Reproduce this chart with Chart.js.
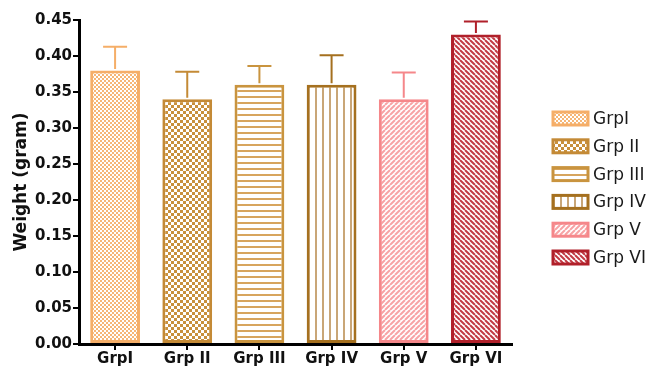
<!DOCTYPE html>
<html>
<head>
<meta charset="utf-8">
<script src="https://cdn.jsdelivr.net/npm/chart.js@4/dist/chart.umd.min.js"></script>
<style>
  html, body { margin: 0; padding: 0; background: #fff; }
  #wrap { width: 652px; height: 371px; }
</style>
</head>
<body>
<div id="wrap"><canvas id="c" width="652" height="371"></canvas></div>
<script>
// Body weight per group (mean and upper SEM bound)
const groups = ['GrpI', 'Grp II', 'Grp III', 'Grp IV', 'Grp V', 'Grp VI'];
const means = [0.38, 0.34, 0.36, 0.36, 0.34, 0.43];
const upperErr = [0.413, 0.378, 0.386, 0.401, 0.377, 0.448];
const yTicks = [0, 0.05, 0.10, 0.15, 0.20, 0.25, 0.30, 0.35, 0.40, 0.45];

const edgeColors = ['#F5AE68', '#C48A36', '#C9943F', '#A5701F', '#F5878A', '#B0202A'];
const inkColors  = ['#F6B676', '#C8903C', '#D7A55E', '#C9A677', '#F7A3A5', '#C23A44'];

const FONT = '"DejaVu Sans", Verdana, sans-serif';

function tile(w, h, draw) {
  const cv = document.createElement('canvas');
  cv.width = w; cv.height = h;
  const g = cv.getContext('2d');
  g.fillStyle = '#fff';
  g.fillRect(0, 0, w, h);
  draw(g);
  return document.getElementById('c').getContext('2d').createPattern(cv, 'repeat');
}
function checker(size, color) {
  return tile(size * 2, size * 2, g => {
    g.fillStyle = color;
    g.fillRect(0, 0, size, size);
    g.fillRect(size, size, size, size);
  });
}
function hLines(period, thick, color) {
  return tile(period, period, g => { g.fillStyle = color; g.fillRect(0, 0, period, thick); });
}
function vLines(period, thick, color) {
  return tile(period, period, g => { g.fillStyle = color; g.fillRect(0, 0, thick, period); });
}
function diag(period, thick, color, rising) {
  return tile(period, period, g => {
    g.strokeStyle = color; g.lineWidth = thick;
    g.beginPath();
    for (let k = -1; k <= 1; k++) {
      if (rising) { g.moveTo(k * period, period); g.lineTo(k * period + period, 0); }
      else { g.moveTo(k * period, 0); g.lineTo(k * period + period, period); }
    }
    g.stroke();
  });
}
const fills = [
  checker(2, inkColors[0]),
  checker(3, inkColors[1]),
  hLines(6, 2, inkColors[2]),
  vLines(7, 2, inkColors[3]),
  diag(5, 2, inkColors[4], true),
  diag(5, 2, inkColors[5], false)
];

// upper-only error bars with caps
const errorBars = {
  id: 'errorBars',
  afterDatasetsDraw(chart) {
    const { ctx, scales: { x, y } } = chart;
    ctx.save();
    ctx.lineWidth = 2;
    means.forEach((m, i) => {
      const cx = x.getPixelForValue(i);
      const y0 = y.getPixelForValue(m);
      const y1 = y.getPixelForValue(upperErr[i]);
      ctx.strokeStyle = edgeColors[i];
      ctx.beginPath();
      ctx.moveTo(cx, y0 - 1.5); ctx.lineTo(cx, y1);
      ctx.moveTo(cx - 12, y1); ctx.lineTo(cx + 12, y1);
      ctx.stroke();
    });
    ctx.restore();
  }
};

// legend column to the right of the plot
const sideLegend = {
  id: 'sideLegend',
  afterDraw(chart) {
    const { ctx } = chart;
    ctx.save();
    const bx = 553, bw = 35, bh = 13, top = 112, step = 27.8;
    groups.forEach((g, i) => {
      const by = top + i * step;
      ctx.fillStyle = fills[i];
      ctx.fillRect(bx, by, bw, bh);
      ctx.strokeStyle = edgeColors[i];
      ctx.lineWidth = 3;
      ctx.strokeRect(bx, by, bw, bh);
      ctx.fillStyle = '#1a1a1a';
      ctx.font = '17px ' + FONT;
      ctx.textBaseline = 'middle';
      ctx.fillText(g, bx + bw + 5, by + bh / 2 + 1);
    });
    ctx.restore();
  }
};

new Chart(document.getElementById('c'), {
  type: 'bar',
  data: {
    labels: groups,
    datasets: [{
      data: means,
      backgroundColor: fills,
      borderColor: edgeColors,
      borderWidth: 3,
      borderSkipped: false,
      categoryPercentage: 0.69,
      barPercentage: 1.0
    }]
  },
  options: {
    responsive: false,
    animation: false,
    devicePixelRatio: 1,
    layout: { padding: { left: 11, right: 140, top: 20, bottom: 0 } },
    plugins: { legend: { display: false }, tooltip: { enabled: false } },
    scales: {
      x: {
        offset: true,
        grid: { display: true, drawOnChartArea: false, offset: false, tickLength: 6, color: '#000', lineWidth: 2 },
        border: { display: true, color: '#000', width: 3 },
        ticks: { color: '#111', font: { family: FONT, size: 15, weight: 'bold' }, padding: 0 },
        afterFit(s) { s.height = 27; }
      },
      y: {
        min: 0, max: 0.45,
        afterBuildTicks(s) { s.ticks = yTicks.map(v => ({ value: v })); },
        grid: { display: true, drawOnChartArea: false, tickLength: 6, color: '#000', lineWidth: 2 },
        border: { display: true, color: '#000', width: 3 },
        ticks: {
          color: '#111', padding: 1,
          font: { family: FONT, size: 15, weight: 'bold' },
          callback: v => v.toFixed(2)
        },
        title: {
          display: true, text: 'Weight (gram)', color: '#111', padding: { top: 0, bottom: 2 },
          font: { family: FONT, size: 17, weight: 'bold' }
        },
        afterFit(s) { s.width = 68; }
      }
    }
  },
  plugins: [errorBars, sideLegend]
});
</script>
</body>
</html>
